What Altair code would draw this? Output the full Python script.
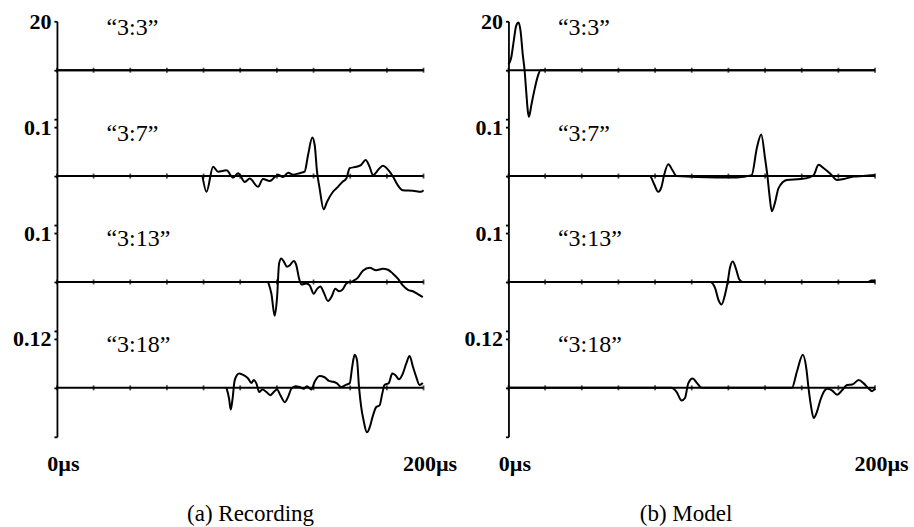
import altair as alt
import pandas as pd

FONT = "Liberation Serif"
ROW_MAX = [20, 0.1, 0.1, 0.12]
ROW_NAMES = ["\u201c3:3\u201d", "\u201c3:7\u201d", "\u201c3:13\u201d", "\u201c3:18\u201d"]
TICK_T = [0, 20, 40, 60, 80, 100, 120, 140, 160, 180, 200]
X_LABEL_T = [0, 200]
CAPTIONS = ["(a) Recording", "(b) Model"]

# ---- (a) Recording ----
rec_33_t = [0, 200]
rec_33_v = [0, 0]

rec_37_t = [79.4, 81.6, 85.2, 87.9, 92.5, 96.1, 98.8, 102.5, 105.2, 109.7, 112.4, 116.1, 120.6, 123.3, 126.1,
            128.8, 132.4, 135.1, 137.0, 139.3, 140.6, 141.9, 143.3, 145.5, 147.3, 150.6, 153.3, 155.7, 157.9, 159.7,
            163.3, 166.0, 168.4, 170.6, 172.4, 176.0, 177.8, 181.5, 183.3, 186.0, 188.7, 194.2, 198.7, 200.0]
rec_37_v = [0, -0.032, 0.019, 0.009, 0.012, -0.003, 0.006, -0.012, -0.005, -0.022, -0.006, -0.010, 0.003, -0.002, 0.007,
            0.003, 0.006, 0.009, 0.043, 0.079, 0.064, 0.009, -0.025, -0.068, -0.053, -0.032, -0.022, -0.012, -0.005, 0.016,
            0.019, 0.023, 0.033, 0.019, 0.002, 0.016, 0.021, 0.009, -0.001, -0.019, -0.029, -0.030, -0.032, -0.029]

rec_313_t = [115.2, 117.0, 118.8, 120.1, 121.2, 122.4, 123.9, 125.5, 127.0, 129.2, 130.6, 132.1, 133.3, 136.1, 137.9,
             140.1, 141.9, 143.7, 145.5, 147.9, 149.7, 151.9, 153.9, 155.7, 157.9, 161.5, 164.2, 166.9, 170.6, 174.2,
             177.8, 180.6, 183.3, 186.0, 188.7, 191.5, 194.2, 196.9, 199.6]
rec_313_v = [0, -0.024, -0.069, -0.031, 0.038, 0.048, 0.041, 0.031, 0.034, 0.043, 0.034, 0.007, -0.005, -0.003, -0.007,
             -0.024, -0.014, -0.009, -0.021, -0.039, -0.031, -0.014, -0.019, -0.016, -0.003, 0.002, 0.009, 0.023, 0.029, 0.024,
             0.027, 0.025, 0.017, 0.007, -0.007, -0.016, -0.019, -0.025, -0.031]

rec_318_t = [92.5, 93.9, 94.8, 95.7, 97.0, 99.4, 101.9, 104.3, 106.1, 107.4, 108.8, 110.3, 112.1, 114.3, 116.4,
             118.3, 120.1, 121.9, 124.3, 126.1, 127.9, 130.2, 132.4, 134.6, 136.4, 138.8, 140.6, 143.3, 146.0, 148.4,
             150.6, 152.8, 155.1, 157.9, 159.7, 161.1, 162.4, 163.7, 164.8, 166.0, 167.3, 169.1, 170.6, 172.4, 174.2,
             176.0, 177.5, 178.7, 181.1, 182.9, 184.7, 186.6, 188.7, 190.6, 192.4, 194.2, 196.0, 197.8, 199.6]
rec_318_v = [0, -0.026, -0.053, -0.031, 0.019, 0.035, 0.031, 0.023, 0.012, 0.019, 0.011, -0.010, -0.004, -0.010, -0.018,
             -0.010, -0.004, -0.018, -0.035, -0.022, -0.002, 0.004, 0.002, -0.002, 0.004, -0.004, 0.015, 0.029, 0.026, 0.017,
             0.015, 0.011, 0.002, 0.008, 0.011, 0.052, 0.081, 0.068, 0.002, -0.047, -0.080, -0.109, -0.097, -0.068, -0.047,
             -0.043, -0.014, 0.007, 0.012, 0.035, 0.031, 0.021, 0.035, 0.060, 0.078, 0.052, 0.027, 0.007, 0.012]

# ---- (b) Model ----
mod_33_t = [0, 1.5, 2.9, 4.2, 5.5, 6.6, 7.8, 8.8, 9.7, 10.6, 11.2, 12.5, 14.0, 16.0, 17.5, 200]
mod_33_v = [2.3, 5.1, 12.0, 18.1, 19.5, 16.1, 6.5, 0, -8.7, -16.9, -19.0, -14.2, -8.7, -2.5, 0, 0]

mod_37_t = [0, 77.1, 79.3, 81.7, 83.5, 84.8, 87.2, 89.5, 91.7, 113.6, 124.5, 132.7, 135.5, 137.9, 140.0,
            141.3, 142.4, 143.7, 145.5, 147.3, 151.9, 159.2, 163.7, 166.5, 169.2, 172.0, 175.6, 179.3, 182.9, 188.4,
            193.8, 200.0]
mod_37_v = [0, 0, -0.015, -0.032, -0.022, 0, 0.024, 0.012, 0, -0.003, -0.003, 0.002, 0.057, 0.085, 0.036,
            0, -0.039, -0.072, -0.053, -0.025, -0.008, -0.006, -0.003, 0.002, 0.023, 0.016, 0.005, -0.008, -0.006, -0.001,
            0, 0.002]

mod_313_t = [0, 110.0, 112.7, 114.5, 116.3, 118.2, 119.6, 120.9, 122.4, 124.2, 126.0, 127.8, 196.0, 198.0, 200.0]
mod_313_v = [0, 0, -0.012, -0.036, -0.046, -0.025, 0, 0.030, 0.042, 0.026, 0.005, 0, 0, 0.003, 0.003]

mod_318_t = [0, 89.0, 91.7, 94.5, 96.3, 98.1, 100.5, 103.0, 105.4, 154.6, 157.4, 160.6, 162.5, 163.7, 165.0,
             166.5, 168.3, 170.1, 172.0, 173.8, 176.5, 179.3, 182.0, 184.7, 187.5, 191.1, 193.8, 196.6, 198.4, 200.0]
mod_318_v = [0, 0, -0.010, -0.031, -0.025, 0.011, 0.023, 0.011, 0, 0, 0.040, 0.081, 0.048, 0, -0.043,
             -0.074, -0.059, -0.031, -0.010, -0.002, -0.006, -0.017, -0.006, 0.007, 0.008, 0.019, 0.011, -0.002, -0.008, -0.002]

PANELS = [
    [(rec_33_t, rec_33_v), (rec_37_t, rec_37_v), (rec_313_t, rec_313_v), (rec_318_t, rec_318_v)],
    [(mod_33_t, mod_33_v), (mod_37_t, mod_37_v), (mod_313_t, mod_313_v), (mod_318_t, mod_318_v)],
]

PLOT_W = 367
HALF = 49
ROW_H = 106
LAST_H = 98
LABEL_T = 27          # where the row names start (in µs)
LABEL_FRAC = 0.87     # row-name height as a fraction of the row's full scale


def row_chart(t, v, i):
    m = ROW_MAX[i]
    last = i == len(ROW_MAX) - 1
    h = LAST_H if last else ROW_H
    lo = -m if last else -m * (h - HALF) / HALF
    xscale = alt.Scale(domain=[0, 200], nice=False, zero=False)
    yscale = alt.Scale(domain=[lo, m], nice=False, zero=False)
    if last:
        xaxis = alt.Axis(values=X_LABEL_T, labelExpr="datum.value + '\u00b5s'", domain=False, ticks=False,
                         grid=False, labelFlush=False, labelOffset=6, labelPadding=17, title=None,
                         labelFont=FONT, labelFontSize=22, labelFontWeight="bold", labelColor="black")
    else:
        xaxis = None
    yaxis = alt.Axis(values=[-m, -m / 2, 0, m / 2, m],
                     labelExpr=f"datum.value == {m} ? '{m:g}' : ''",
                     grid=False, title=None, domainColor="black", domainWidth=1.8,
                     tickColor="black", tickSize=3, tickWidth=1.8, labelPadding=3,
                     labelFont=FONT, labelFontSize=22, labelFontWeight="bold", labelColor="black")

    trace_df = pd.DataFrame({"t": t, "v": v})
    tick_df = pd.DataFrame({"t": TICK_T, "v": [0] * len(TICK_T)})
    label_df = pd.DataFrame({"t": [LABEL_T], "v": [LABEL_FRAC * m], "name": [ROW_NAMES[i]]})

    X = alt.X("t:Q", scale=xscale, axis=xaxis)
    Y = alt.Y("v:Q", scale=yscale, axis=yaxis)

    base = alt.Chart(tick_df).mark_line(color="black", strokeWidth=2.0).encode(x=X, y=Y)
    ticks = alt.Chart(tick_df).mark_tick(color="black", orient="vertical", size=5, thickness=1.8).encode(
        x="t:Q", y="v:Q")
    trace = alt.Chart(trace_df).mark_line(color="black", strokeWidth=2.0, interpolate="monotone").encode(
        x="t:Q", y="v:Q")
    label = alt.Chart(label_df).mark_text(align="left", baseline="middle", font=FONT, fontSize=24,
                                          color="black").encode(x="t:Q", y="v:Q", text="name:N")
    return alt.layer(base, ticks, trace, label).properties(width=PLOT_W, height=h)


panels = []
for p, traces in enumerate(PANELS):
    rows = [row_chart(t, v, i) for i, (t, v) in enumerate(traces)]
    panels.append(
        alt.vconcat(*rows, spacing=0, bounds="flush").properties(
            title=alt.TitleParams(CAPTIONS[p], orient="bottom", anchor="middle", font=FONT, fontSize=23,
                                  fontWeight="normal", color="black", offset=28, dx=16 if p == 0 else 0)
        )
    )

chart = alt.hconcat(*panels, spacing=6).properties(
    padding={"left": 12, "top": 10, "right": 5, "bottom": 5},
    background="white",
).configure_view(stroke=None)

chart.save("out.html", embed_options={"renderer": "svg", "actions": False})
